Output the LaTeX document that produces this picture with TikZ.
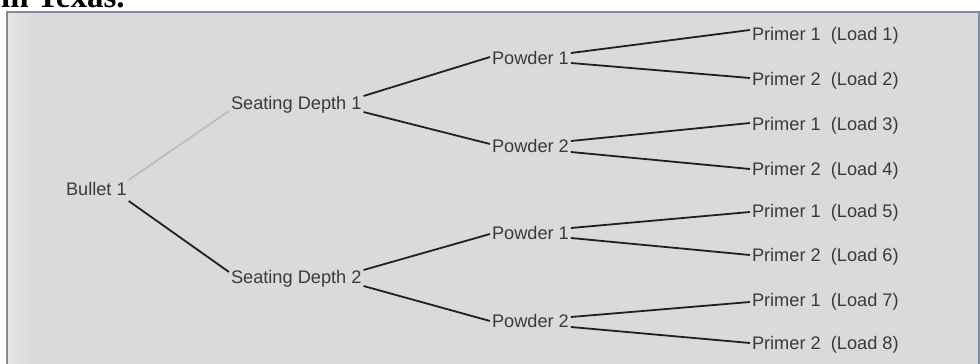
\documentclass[tikz,border=0pt]{standalone}
\usepackage{fontspec}
\newfontfamily\lblfont{Liberation Sans}
\newfontfamily\headfont{Liberation Serif}
\definecolor{panelgray}{RGB}{218,218,218}
\definecolor{panelhi}{RGB}{228,230,226}
\definecolor{bordergray}{RGB}{128,138,156}
\definecolor{txtgray}{RGB}{58,58,58}
\definecolor{linedark}{RGB}{32,32,32}
\definecolor{linelight}{RGB}{188,188,188}
\tikzset{
  lbl/.style={font=\lblfont\fontsize{18.2}{20}\selectfont, text=txtgray, inner sep=0pt, outer sep=2pt,
    text height=13pt, text depth=4pt, anchor=west},
  branch/.style={draw=linedark, line width=1.8pt},
}

\begin{document}
\begin{tikzpicture}[x=1pt,y=-1pt]
          \useasboundingbox (0,0) rectangle (980,364);
          \clip (0,0) rectangle (980,364);
          \node [anchor=base west, inner sep=0pt, font=\headfont\bfseries\fontsize{33}{36}\selectfont] (head) at (1,7) {in Texas.};
          \filldraw [fill=panelgray, draw=bordergray, line width=2pt] (7,12) rectangle (979,372);
          \shade [left color=panelhi, right color=panelgray] (8,13) rectangle (34,364);
          \node [lbl] (b) at (64,191) {Bullet 1};
          \node [lbl] (sd1) at (229,105) {Seating Depth 1};
          \node [lbl] (sd2) at (229,279) {Seating Depth 2};
          \node [lbl] (p11) at (490,60) {Powder 1};
          \node [lbl] (p12) at (490,148) {Powder 2};
          \node [lbl] (p21) at (490,235) {Powder 1};
          \node [lbl] (p22) at (490,323) {Powder 2};
          \node [lbl] (l1) at (750,36) {Primer 1\ \ (Load 1)};
          \node [lbl] (l2) at (750,81) {Primer 2\ \ (Load 2)};
          \node [lbl] (l3) at (750,126) {Primer 1\ \ (Load 3)};
          \node [lbl] (l4) at (750,171) {Primer 2\ \ (Load 4)};
          \node [lbl] (l5) at (750,213) {Primer 1\ \ (Load 5)};
          \node [lbl] (l6) at (750,257) {Primer 2\ \ (Load 6)};
          \node [lbl] (l7) at (750,302) {Primer 1\ \ (Load 7)};
          \node [lbl] (l8) at (750,345) {Primer 2\ \ (Load 8)};
          \draw [branch, draw=linelight] ([yshift=11pt]b.east) -- ([yshift=-6pt]sd1.west);
          \draw [branch] ([yshift=-10pt]b.east) -- ([yshift=7pt]sd2.west);
          \draw [branch] ([yshift=9pt]sd1.east) -- ([yshift=3pt]p11.west);
          \draw [branch] ([yshift=-7pt]sd1.east) -- ([yshift=4pt]p12.west);
          \draw [branch] ([yshift=9pt]sd2.east) -- ([yshift=1pt]p21.west);
          \draw [branch] ([yshift=-7pt]sd2.east) -- ([yshift=2pt]p22.west);
          \draw [branch] ([yshift=7pt]p11.east) -- ([yshift=6pt]l1.west);
          \draw [branch] ([yshift=-3pt]p11.east) -- ([yshift=3pt]l2.west);
          \draw [branch] ([yshift=7pt]p12.east) -- ([yshift=3pt]l3.west);
          \draw [branch] ([yshift=-4pt]p12.east) -- ([yshift=2pt]l4.west);
          \draw [branch] ([yshift=7pt]p21.east) -- ([yshift=1pt]l5.west);
          \draw [branch] ([yshift=-3pt]p21.east) -- ([yshift=2pt]l6.west);
          \draw [branch] ([yshift=6pt]p22.east) -- ([yshift=0pt]l7.west);
          \draw [branch] ([yshift=-4pt]p22.east) -- ([yshift=2pt]l8.west);
        \end{tikzpicture}
\end{document}
